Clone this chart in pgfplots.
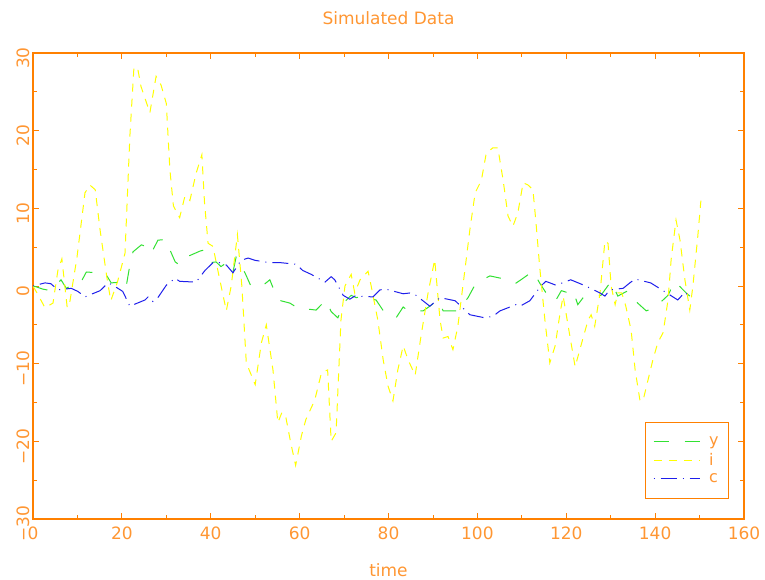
\documentclass[border=0pt]{standalone}
\usepackage{fontspec}
\setmainfont{DejaVu Sans}
\usepackage{pgfplots}
\pgfplotsset{compat=1.18}
\definecolor{idlorange}{RGB}{255,128,0}
\definecolor{idltext}{RGB}{255,150,50}
\definecolor{idlgreen}{RGB}{50,225,50}
\definecolor{idlyellow}{RGB}{255,255,0}
\definecolor{idlblue}{RGB}{30,30,235}

\pgfplotstableread{
t y
0 0
0.7 -0.1
2.2 -0.4
4 -0.6
5 0
6.3 0.8
7.5 -0.3
9.7 0.4
10.8 0.5
12 1.8
14.6 1.7
16.2 1.7
17.6 0.4
19.8 0.5
20.9 -0.3
21.8 2.7
22.5 4.4
24.4 5.3
25.9 5
26.6 4.2
28.1 5.9
30 6
30.4 5.2
32 3.1
33 2.7
34.4 3.7
37.6 4.5
38.3 4.6
39.8 3
41.2 3.1
42.3 2.5
43.8 3.1
45 1.8
45.7 3.7
47.7 1.7
49.1 -0.1
51.8 0.1
53.3 0.8
55.1 -1.8
57.8 -2.2
60.3 -3.1
62.3 -3
63.7 -3.1
65.9 -1.8
67.1 -3.3
68.6 -4.1
70.2 -2
71.6 -1.2
72.7 -1.5
73.8 -1.4
77.2 -1.8
79.2 -3.5
81.7 -4.1
83.3 -2.7
84.4 -3.2
87.8 -3.2
89.3 -2.6
91.1 -1.8
92.3 -3.2
95.6 -3.2
97.9 -1.5
99.7 0.4
102.8 1.3
106.9 0.8
108.5 0.3
109.8 0.8
112.5 1.9
114 0.4
116.6 -1.9
117.7 -1.8
118.9 -0.6
120 -0.8
121.5 -0.5
122.6 -2.4
123.8 -1.5
126.4 -1.2
127.8 -1.2
130.1 0.6
131.6 -1.3
133.9 -0.6
135.5 -1.9
138 -3.2
139.9 -2.8
142.9 -1.2
144.4 0.6
147 -0.9
147.8 -1.3
}\seriesy

\pgfplotstableread{
t i
0 0
1 -1
2.7 -2.8
4.5 -2.2
5.6 2
6.5 3.5
7.7 -2.8
8.3 -2
9.9 3.7
11.7 12
12.8 13
14 12.4
15.1 7.2
16.6 1.2
17.5 -1.9
19 0.5
20.7 4.2
21.8 19.3
22.7 28
23.5 28.2
24.3 25.7
26.3 22.3
27.7 27
28.8 25.9
30 23.5
30.8 15
31.6 10.3
33 8.8
34.2 11.6
35.3 11
36.7 14.5
38 16.9
38.6 10.7
39.4 5.5
40.5 5.1
41.6 2
43.5 -3.2
44.6 0
46 6.6
47 0
48 -9.9
50 -12.7
51.4 -7.3
52.5 -5
54 -10.8
55.1 -17.6
56 -16.3
56.8 -16.6
58 -20.2
59.1 -23.1
60.4 -19.3
61.4 -17.2
63.4 -14.7
64.9 -11.2
66.3 -10.8
67.1 -20
68.2 -18.9
69.3 -4.4
70.2 0
71.6 1.5
72.4 -0.9
73.6 0.8
75.4 1.9
76.1 0
77.6 -4.4
78.8 -9.5
79.9 -12.9
81 -14.8
82.1 -10.8
83.3 -7.7
84.4 -9.5
86 -11.5
87.3 -6.5
88.9 -0.9
90.4 3.4
91.6 -4.4
92.3 -6.7
93.4 -6.5
94.5 -8.2
95.6 -5.2
97.2 2.1
98.3 7.2
99.5 12
100.9 13.6
102 17.1
103.5 17.8
104.6 17.8
105.8 13.6
106.9 9
108 7.7
109.1 9.4
110.3 13.3
111.4 13
112.5 12.4
113.2 8.1
114 2.6
115.2 -4.4
116.3 -9.9
117.5 -7.7
118.6 -3.5
119.3 -1.3
120.8 -6.4
122 -10.4
123.3 -7.7
124.9 -4.4
125.6 -3.7
126.4 -5.2
127.6 -0.9
128.7 5.8
129.4 5.5
130.1 0
131 -2.4
131.6 -0.9
132.5 -0.9
133.4 -2.6
134.6 -5.7
135.5 -10.8
136.6 -14.8
137.3 -14.7
138.4 -12.1
139.5 -9.5
140.6 -7.3
141.8 -6
142.9 -1.8
143.6 3.4
144.7 8.5
145.6 5.9
146.7 0.8
147.8 -3.1
148.5 0
149.6 6.4
150.3 11
}\seriesi

\pgfplotstableread{
t c
0 0
2.7 0.4
4 0.3
5.6 -0.5
8.6 -0.3
10.1 -0.7
11.7 -1.4
15.1 -0.6
16.9 0.4
18 0.1
20.2 -0.7
21.8 -2.6
25.2 -1.8
25.9 -1.4
27 -2
28.1 -1.5
30 0.1
32 1
33 0.6
36.7 0.5
38.7 2
40.5 3
42 3
43.5 2.7
45 1.7
46.8 3.3
48.4 3.6
50 3.3
53.3 3
55.8 3
59.2 2.8
60.7 2
62.6 1.5
65.7 0.5
67.1 1.2
67.9 0.8
69.8 -1.2
71.3 -1.7
72.4 -1.3
76.5 -1.4
78.1 -0.5
79.4 -0.4
83.3 -1
84.8 -0.9
86.2 -1.2
89.3 -2.6
91.6 -1.5
95 -1.9
98.3 -3.7
101.7 -4.1
103.5 -3.9
105.1 -3.2
108.7 -2.4
109.6 -2.6
111.8 -1.9
114.3 0
115.4 0.6
117.7 0.1
121 0.8
124.4 0
127.6 -0.9
128.7 -1.3
129.8 -0.5
132.8 -0.3
134.3 0.4
135.5 0.9
139 0.4
141.8 -0.6
145.1 -1.8
146.7 -0.8
147.8 -1.4
}\seriesc

\begin{document}
\begin{tikzpicture}
\begin{axis}[
    scale only axis, width=711pt, height=466pt,
    xmin=0, xmax=160, ymin=-30, ymax=30,
    xtick={0,20,...,160}, minor x tick num=1,
    ytick={-30,-20,...,30}, minor y tick num=1,
    yticklabels={−30,−20,−10,0,10,20,30},
    tick align=inside,
    major tick length=6pt, minor tick length=4pt,
    every tick/.style={idlorange, line width=0.8pt},
    axis line style={idlorange, line width=1.6pt},
    /pgf/number format/assume math mode=true,
    tick label style={font=\fontsize{17}{17}\selectfont, text=idltext},
    xticklabel style={yshift=-4pt},
    yticklabel style={rotate=90, anchor=south, xshift=-5pt},
    title={Simulated Data},
    title style={font=\fontsize{17}{17}\selectfont, text=idltext, yshift=19pt},
    xlabel={time},
    xlabel style={font=\fontsize{17}{17}\selectfont, text=idltext, yshift=-17pt},
    legend style={at={(0.979,0.043)}, anchor=south east, draw=idlorange, line width=1pt,
        font=\fontsize{16}{16}\selectfont, text=idltext, inner xsep=8pt, inner ysep=12.5pt,
        row sep=2.5pt, cells={anchor=west}},
    legend image code/.code={\draw[#1, line width=1pt] (0pt,0pt) -- (46pt,0pt);},
]
\coordinate (bl) at (rel axis cs:0,0);
\coordinate (tr) at (rel axis cs:1,1);
\addplot[idlgreen, line width=1pt, dash pattern=on 15pt off 16pt] table[x=t, y=y] {\seriesy};
\addlegendentry{\hspace*{7pt}y}
\addplot[idlyellow, line width=1pt, dash pattern=on 8pt off 7pt] table[x=t, y=i] {\seriesi};
\addlegendentry{\hspace*{7pt}i}
\addplot[idlblue, line width=1pt, dash pattern=on 1pt off 6pt on 16pt off 6pt] table[x=t, y=c] {\seriesc};
\addlegendentry{\hspace*{7pt}c}
\end{axis}
\pgfresetboundingbox
\path[use as bounding box] ([xshift=-33pt,yshift=-61pt]bl) rectangle ([xshift=21pt,yshift=53pt]tr);
\end{tikzpicture}
\end{document}
